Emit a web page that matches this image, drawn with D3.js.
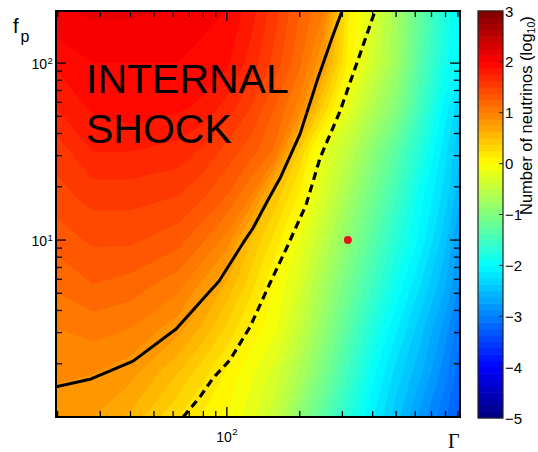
<!DOCTYPE html>
<html><head><meta charset="utf-8">
<script src="https://cdn.jsdelivr.net/npm/d3@7"></script>
<style>html,body{margin:0;padding:0;background:#fff;} svg{display:block;}</style>
</head><body>
<svg id="chart" width="538" height="452"></svg>
<script>
// ---- data ----
const gammaGrid = [19.7, 28, 40, 63, 79, 100, 126, 158, 200, 251, 316, 398, 501, 631, 794, 918];
const fpGrid = [1, 1.78, 3.16, 5.62, 10, 17.8, 31.6, 56.2, 100, 197];
// log10(number of neutrinos); one row per fpGrid value (bottom to top)
const logNeutrinos = [
  [0.80, 0.75, 0.60, 0.25, 0.12, 0.00, -0.20, -0.45, -0.90, -1.30, -1.70, -2.10, -2.45, -2.80, -3.10, -3.30],
  [0.90, 0.88, 0.80, 0.50, 0.30, 0.10, -0.10, -0.30, -0.65, -1.05, -1.50, -1.95, -2.30, -2.60, -2.95, -3.20],
  [1.00, 1.05, 1.00, 0.80, 0.60, 0.35, 0.10, -0.10, -0.45, -0.85, -1.30, -1.75, -2.10, -2.45, -2.80, -3.10],
  [1.15, 1.25, 1.20, 1.05, 0.85, 0.60, 0.30, 0.00, -0.30, -0.70, -1.10, -1.50, -1.90, -2.25, -2.60, -2.90],
  [1.30, 1.40, 1.40, 1.30, 1.15, 0.95, 0.50, 0.20, -0.15, -0.50, -0.90, -1.30, -1.70, -2.05, -2.45, -2.80],
  [1.45, 1.55, 1.55, 1.50, 1.40, 1.25, 1.00, 0.45, 0.10, -0.30, -0.70, -1.10, -1.50, -1.95, -2.30, -2.60],
  [1.55, 1.75, 1.75, 1.70, 1.60, 1.45, 1.30, 1.10, 0.35, -0.20, -0.50, -0.90, -1.30, -1.75, -2.20, -2.50],
  [1.75, 1.90, 1.95, 1.90, 1.85, 1.70, 1.50, 1.25, 0.95, 0.35, -0.20, -0.60, -0.95, -1.50, -2.05, -2.35],
  [1.90, 2.00, 2.00, 2.00, 1.95, 1.90, 1.70, 1.45, 1.15, 0.75, 0.10, -0.35, -0.75, -1.35, -1.85, -2.00],
  [2.10, 2.15, 2.15, 2.10, 2.05, 2.00, 1.80, 1.55, 1.25, 1.00, 0.15, -0.25, -0.70, -1.25, -1.75, -2.05]
];
const solidGamma = [19.7, 27.5, 41.0, 61.7, 92.9, 116.7, 128.3, 148, 166, 200.6, 238, 272, 299];
const solidFp    = [1.48, 1.64, 2.07, 3.14, 5.87, 9.63, 11.7, 16.9, 22.4, 39.8, 82.5, 139, 197];
const dashedGamma = [66, 77.5, 87.7, 103, 124.7, 150.8, 177.3, 212.4, 242.6, 293.7, 355, 409];
const dashedFp    = [1, 1.30, 1.66, 2.10, 3.23, 5.72, 9.14, 15.8, 29.1, 53.7, 112.7, 197];
const dotGamma = [316];
const dotFp = [10];
const xMajorTicks = [100];
const xMajorLabels = ["2"];      // exponents of 10
const yMajorTicks = [10, 100];
const yMajorLabels = ["1", "2"];
const cbTicks = [3, 2, 1, 0, -1, -2, -3, -4, -5];
const cbTickLabels = ["3", "2", "1", "0", "\u22121", "\u22122", "\u22123", "\u22124", "\u22125"];
const annotationLines = ["INTERNAL", "SHOCK"];
const cbLabel = "Number of neutrinos (log";
const cbLabelSub = "10";

// ---- drawing ----
const svg = d3.select("#chart");
const font = "'Liberation Sans', Arial, Helvetica, sans-serif";
const X0 = 56, X1 = 460, Y0 = 11, Y1 = 417;
const xScale = d3.scaleLog().domain([19.7, 918]).range([X0, X1]);
const yScale = d3.scaleLog().domain([1, 197]).range([Y1, Y0]);

function jet(t) {
  const c = v => Math.max(0, Math.min(1, v));
  const r = c(1.5 - Math.abs(4 * t - 3));
  const g = c(1.5 - Math.abs(4 * t - 2));
  const b = c(1.5 - Math.abs(4 * t - 1));
  return d3.rgb(r * 255, g * 255, b * 255).toString();
}
const color = d3.scaleSequential(jet).domain([-5, 3]);

// heat map via filled contours
const n = gammaGrid.length, m = fpGrid.length;
const flat = [];
for (let j = 0; j < m; j++) for (let i = 0; i < n; i++) flat.push(logNeutrinos[j][i]);
const step = 8 / 64;
const thresholds = d3.range(0, 64).map(k => -5 + k * step);
const contours = d3.contours().size([n, m]).thresholds(thresholds)(flat);
const gx = gammaGrid.map(Math.log10), hy = fpGrid.map(Math.log10);
function gridToLog(c, arr) {
  const t = c - 0.5;
  if (t <= 0) return arr[0];
  if (t >= arr.length - 1) return arr[arr.length - 1];
  const i = Math.floor(t), f = t - i;
  return arr[i] + (arr[i + 1] - arr[i]) * f;
}
const proj = d3.geoTransform({
  point(x, y) { this.stream.point(xScale(Math.pow(10, gridToLog(x, gx))), yScale(Math.pow(10, gridToLog(y, hy)))); }
});
const path = d3.geoPath(proj);

svg.append("clipPath").attr("id", "plotclip").append("rect")
  .attr("x", X0).attr("y", Y0).attr("width", X1 - X0).attr("height", Y1 - Y0);

const heat = svg.append("g").attr("clip-path", "url(#plotclip)");
heat.selectAll("path").data(contours).join("path")
  .attr("d", path)
  .attr("fill", d => color(d.value + step / 2))
  .attr("stroke", "none");

// lines
const lineGen = d3.line().x(d => xScale(d[0])).y(d => yScale(d[1]));
const lines = svg.append("g").attr("clip-path", "url(#plotclip)");
lines.append("path").attr("d", lineGen(solidGamma.map((g, i) => [g, solidFp[i]])))
  .attr("fill", "none").attr("stroke", "#000").attr("stroke-width", 3).attr("stroke-linejoin", "round");
lines.append("path").attr("d", lineGen(dashedGamma.map((g, i) => [g, dashedFp[i]])))
  .attr("fill", "none").attr("stroke", "#000").attr("stroke-width", 3.2).attr("stroke-dasharray", "8,5");

// red dot
svg.selectAll("circle.dot").data(dotGamma).join("circle").attr("class", "dot")
  .attr("cx", d => xScale(d)).attr("cy", (d, i) => yScale(dotFp[i])).attr("r", 4)
  .attr("fill", "#e8141c");

// annotation
annotationLines.forEach((t, i) => {
  svg.append("text").attr("x", 86).attr("y", 93 + i * 50).text(t)
    .attr("font-family", font).attr("font-size", 41).attr("fill", "#000");
});

// ticks
const tk = svg.append("g").attr("stroke", "#000").attr("stroke-width", 1.3);
xScale.ticks().forEach(v => {
  const x = xScale(v);
  if (x <= X0 + 1 || x >= X1 - 1) return;
  const L = xMajorTicks.includes(v) ? 10 : 6;
  tk.append("line").attr("x1", x).attr("x2", x).attr("y1", Y1).attr("y2", Y1 - L);
  tk.append("line").attr("x1", x).attr("x2", x).attr("y1", Y0).attr("y2", Y0 + L);
});
yScale.ticks().forEach(v => {
  const y = yScale(v);
  if (y <= Y0 + 1 || y >= Y1 - 1) return;
  const L = yMajorTicks.includes(v) ? 10 : 6;
  tk.append("line").attr("y1", y).attr("y2", y).attr("x1", X0).attr("x2", X0 + L);
  tk.append("line").attr("y1", y).attr("y2", y).attr("x1", X1).attr("x2", X1 - L);
});

// frame
svg.append("rect").attr("x", X0).attr("y", Y0).attr("width", X1 - X0).attr("height", Y1 - Y0)
  .attr("fill", "none").attr("stroke", "#000").attr("stroke-width", 2);

// tick labels
yMajorTicks.forEach((v, i) => {
  const y = yScale(v);
  svg.append("text").attr("x", 47).attr("y", y + 6).attr("text-anchor", "end")
    .attr("font-family", font).attr("font-size", 14).text("10");
  svg.append("text").attr("x", 47.5).attr("y", y + 0.5)
    .attr("font-family", font).attr("font-size", 9.5).text(yMajorLabels[i]);
});
xMajorTicks.forEach((v, i) => {
  const x = xScale(v);
  svg.append("text").attr("x", x + 5).attr("y", 442).attr("text-anchor", "end")
    .attr("font-family", font).attr("font-size", 14).text("10");
  svg.append("text").attr("x", x + 5.5).attr("y", 435)
    .attr("font-family", font).attr("font-size", 9.5).text(xMajorLabels[i]);
});

// axis labels
svg.append("text").attr("x", 13).attr("y", 33).attr("font-family", font).attr("font-size", 20).text("f");
svg.append("text").attr("x", 20.5).attr("y", 42).attr("font-family", font).attr("font-size", 16).text("p");
svg.append("text").attr("x", 448).attr("y", 448).attr("font-family", "'Liberation Serif', 'Times New Roman', serif")
  .attr("font-size", 20).text("\u0393");

// colorbar
const CB0 = 478, CB1 = 503;
const cbY = d3.scaleLinear().domain([-5, 3]).range([418, 11]);
const cbBins = d3.range(0, 64);
svg.append("g").selectAll("rect").data(cbBins).join("rect")
  .attr("x", CB0).attr("width", CB1 - CB0)
  .attr("y", k => cbY(-5 + (k + 1) * step) - 0.3)
  .attr("height", k => cbY(-5 + k * step) - cbY(-5 + (k + 1) * step) + 0.6)
  .attr("fill", k => color(-5 + (k + 0.5) * step));
svg.append("rect").attr("x", CB0).attr("y", 11).attr("width", CB1 - CB0).attr("height", 407)
  .attr("fill", "none").attr("stroke", "#222").attr("stroke-width", 1.2);
cbTicks.forEach((v, i) => {
  const y = cbY(v);
  if (v > -5 && v < 3) {
    svg.append("line").attr("x1", CB1).attr("x2", CB1 - 4).attr("y1", y).attr("y2", y)
      .attr("stroke", "#222").attr("stroke-width", 1);
  }
  svg.append("text").attr("x", 505).attr("y", y + 5.5)
    .attr("font-family", font).attr("font-size", 15).text(cbTickLabels[i]);
});
const lab = svg.append("text").attr("transform", "translate(532,215) rotate(-90)")
  .attr("font-family", font).attr("font-size", 16.5);
lab.append("tspan").text(cbLabel);
lab.append("tspan").attr("font-size", 10.5).attr("dy", 3).text(cbLabelSub);
lab.append("tspan").attr("dy", -3).text(")");
</script>
</body></html>
